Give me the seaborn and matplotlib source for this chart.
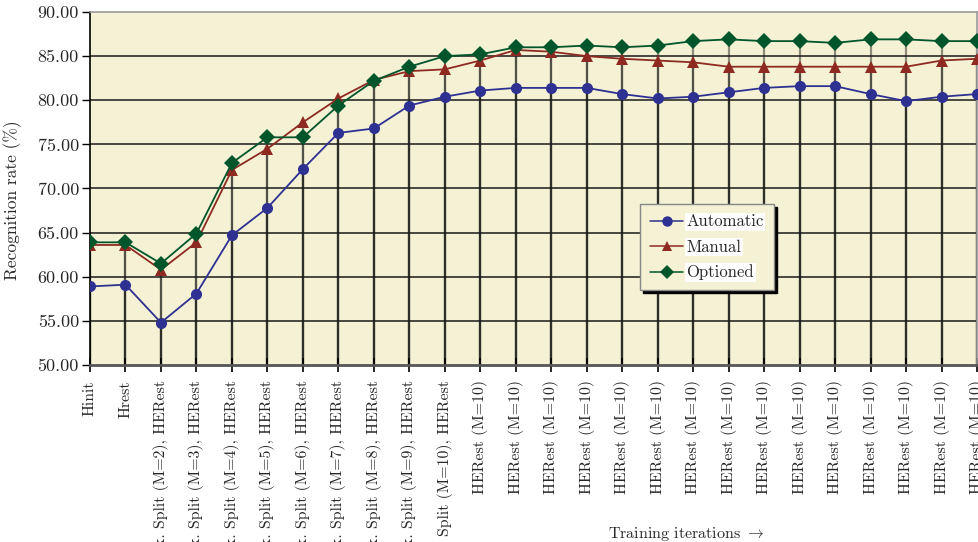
import matplotlib
matplotlib.use("Agg")
import matplotlib.pyplot as plt
import seaborn as sns
import pandas as pd
import numpy as np

categories = ["Hinit", "Hrest"] + [f"Mix. Split (M={m}), HERest" for m in range(2, 11)] + ["HERest (M=10)"] * 15
automatic = [58.9, 59.1, 54.8, 58.1, 64.7, 67.8, 72.2, 76.3, 76.8, 79.4, 80.4, 81.1, 81.4, 81.4,
             81.4, 80.7, 80.2, 80.4, 80.9, 81.4, 81.6, 81.6, 80.7, 79.9, 80.4, 80.7]
manual = [63.6, 63.6, 60.8, 63.9, 72.1, 74.5, 77.5, 80.2, 82.3, 83.3, 83.5, 84.5, 85.7, 85.5,
          85.0, 84.7, 84.5, 84.3, 83.8, 83.8, 83.8, 83.8, 83.8, 83.8, 84.5, 84.7]
optioned = [63.9, 63.9, 61.5, 64.9, 72.9, 75.8, 75.8, 79.4, 82.2, 83.8, 85.0, 85.2, 86.0, 86.0,
            86.2, 86.0, 86.2, 86.7, 86.9, 86.7, 86.7, 86.5, 86.9, 86.9, 86.7, 86.7]
series_names = ["Automatic", "Manual", "Optioned"]
y_ticks = [50, 55, 60, 65, 70, 75, 80, 85, 90]

sns.set_theme(style="white")
plt.rcParams["font.family"] = ["cmr10", "DejaVu Serif"]
plt.rcParams["mathtext.fontset"] = "cm"
plt.rcParams["axes.formatter.use_mathtext"] = True

idx = np.arange(len(categories))
df = pd.DataFrame({
    "pos": np.concatenate([idx, idx, idx]),
    "value": automatic + manual + optioned,
    "series": np.repeat(series_names, len(categories)),
})

colors = {"Automatic": "#2E3192", "Manual": "#8E2A21", "Optioned": "#00552A"}
markers = {"Automatic": "o", "Manual": "^", "Optioned": "D"}

fig = plt.figure(figsize=(9.79, 5.42), dpi=100)
ax = fig.add_axes([90 / 979, 1 - 365 / 542, 887 / 979, 353 / 542])
ax.set_facecolor("#F4F1D5")

# drop lines
for vals in (automatic, manual, optioned):
    ax.vlines(idx, 50, vals, colors="black", alpha=0.42, linewidth=1.6, zorder=1)

for y in y_ticks[1:-1]:
    ax.axhline(y, color="#1a1a1a", linewidth=1.1, zorder=1)

sns.lineplot(data=df, x="pos", y="value", hue="series", style="series",
             palette=colors, markers=markers, dashes=False, markersize=8,
             markeredgewidth=0, linewidth=1.3, ax=ax, zorder=3)

ax.set_xlim(0, len(categories) - 1)
ax.set_ylim(50, 90)
ax.set_yticks(y_ticks)
ax.set_yticklabels([f"{v:.2f}" for v in y_ticks], fontsize=13)
ax.set_xticks(idx)
ax.set_xticklabels(categories, rotation=90, fontsize=11.4)
ax.tick_params(axis="y", direction="out", length=6, width=1, color="black", pad=2, left=True)
ax.tick_params(axis="x", direction="inout", length=10, width=1.2, color="black", pad=6, bottom=True)
ax.set_xlabel("")
ax.set_ylabel("Recognition rate (%)", fontsize=12.5)
ax.yaxis.set_label_coords(-0.077, 0.467)

for s in ["top", "right"]:
    ax.spines[s].set_color("#9a9a9a")
    ax.spines[s].set_linewidth(1.2)
ax.spines["left"].set_color("black")
ax.spines["left"].set_linewidth(1.2)
ax.spines["bottom"].set_color("#555555")
ax.spines["bottom"].set_linewidth(2)

leg = ax.legend(loc="upper left", bbox_to_anchor=(0.62, 0.456), borderaxespad=0, fontsize=12,
                frameon=True, fancybox=False, shadow={"color": "black", "alpha": 1},
                facecolor="#F4F1D5", edgecolor="#888888", handlelength=2.0,
                borderpad=0.6, labelspacing=0.6, handletextpad=0.2)
leg.get_frame().set_linewidth(1.0)
for h in leg.legend_handles:
    h.set_markersize(7.5)
    h.set_linewidth(1.1)
for t in leg.get_texts():
    t.set_bbox(dict(facecolor="white", edgecolor="none", pad=1))

fig.text(608 / 979, 1 - 534 / 542, r"Training iterations $\rightarrow$", fontsize=11.5,
         ha="left", va="center")

fig.savefig("out.png", dpi=100)
